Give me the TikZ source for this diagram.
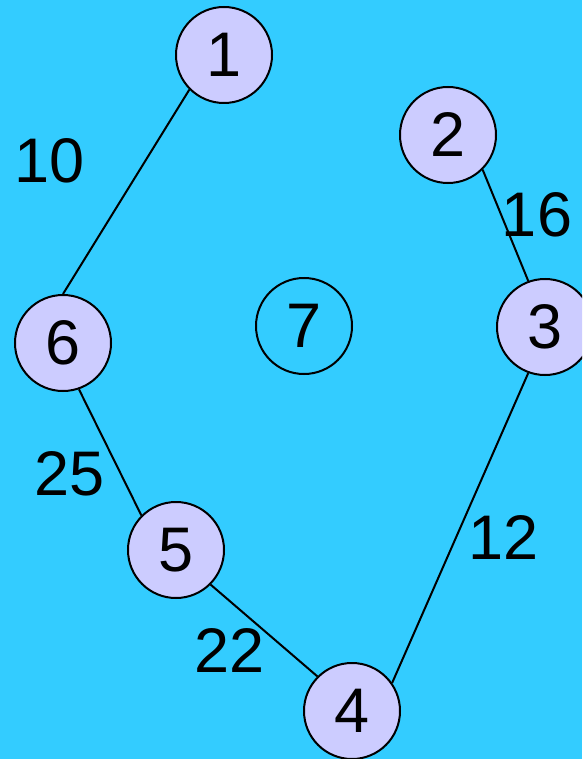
\documentclass[tikz,border=0pt]{standalone}
\usepackage{fontspec}
\setmainfont{Liberation Sans}
\definecolor{SkyBg}{HTML}{33CCFF}
\definecolor{Lilac}{HTML}{CCCCFF}
\tikzset{vert/.style={circle,draw=black,line width=2pt,fill=Lilac,minimum size=96pt,inner sep=0pt},
wt/.style={inner sep=0pt},
link/.style={line width=2pt}}
\begin{document}
\begin{tikzpicture}[x=1pt,y=-1pt,every node/.style={font=\fontsize{63}{63}\selectfont}]
\clip(0,0)rectangle(582,759);\fill[SkyBg](0,0)rectangle(582,759);
% vertices
\node[vert](n1)at(224,55){1};\node[vert](n2)at(448,135){2};\node[vert](n3)at(545,327){3};
\node[vert](n4)at(352,711){4};\node[vert](n5)at(176,550){5};\node[vert](n6)at(63,343){6};
\node[vert,fill=none](n7)at(304,326){7};
% edges
\draw[link](n1.south west)--(n6.north);\draw[link](n2.south east)--(n3.110);\draw[link](n3.250)--(n4.35);
\draw[link](n5.south east)--(n4.north west);\draw[link](n6.289)--(n5.north west);
% weights
\node[wt](w10)at(50,161){10};\node[wt](w16)at(537,215){16};\node[wt](w12)at(504,537){12};
\node[wt](w25)at(70,474){25};\node[wt](w22)at(230,650){22};
\end{tikzpicture}
\end{document}
